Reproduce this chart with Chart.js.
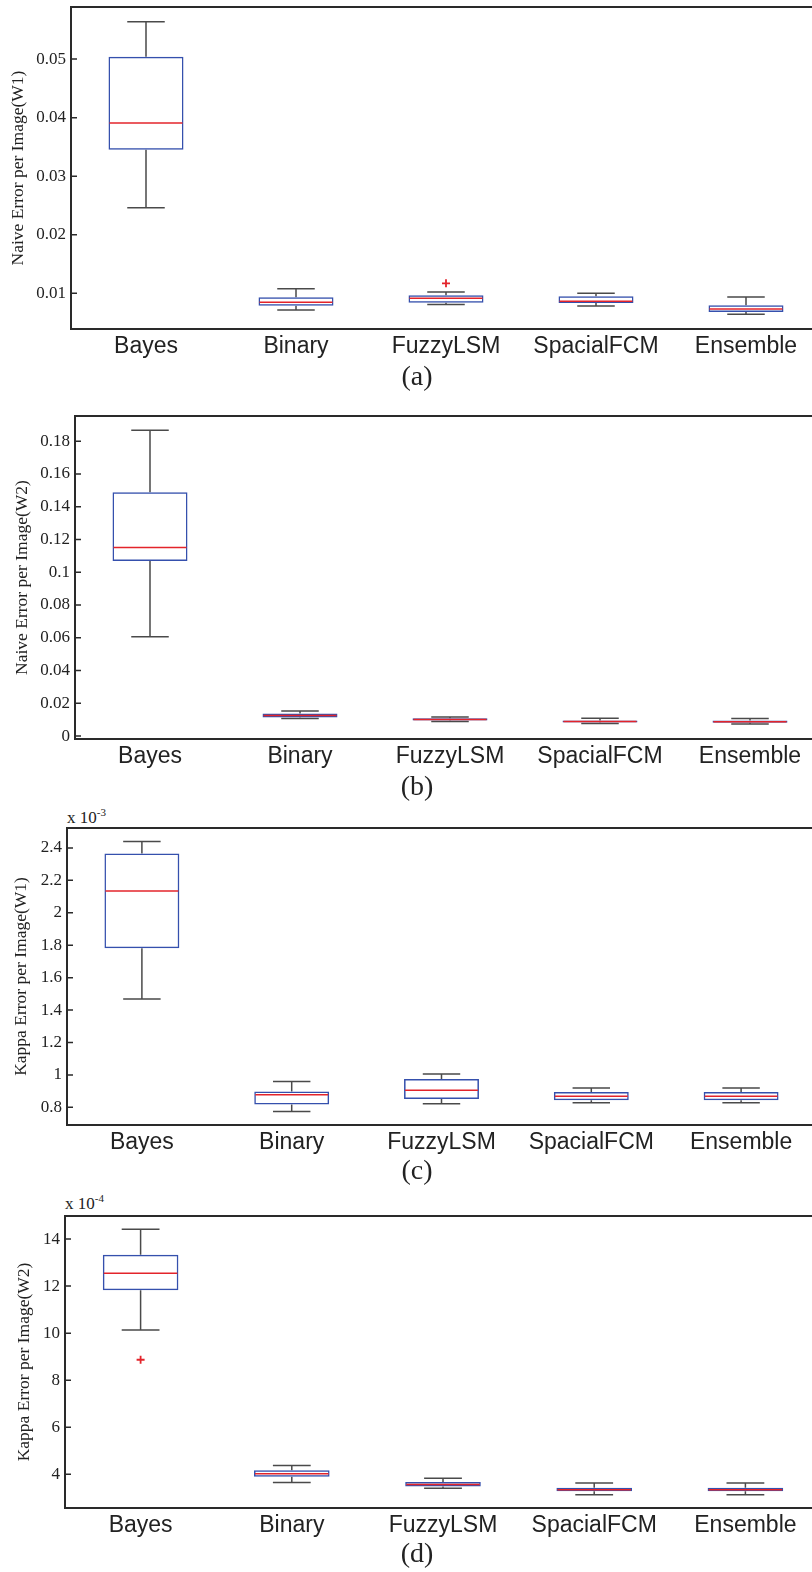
<!DOCTYPE html>
<html lang="en">
<head>
<meta charset="UTF-8">
<title>Error per Image box plots</title>
<style>
    html, body { margin: 0; padding: 0; background: #fff; overflow: hidden; }
    body { width: 812px; height: 1572px; position: relative; }
    canvas { position: absolute; left: 0; }
    .caption {
        position: absolute;
        font-family: "Liberation Serif", serif;
        font-size: 28px;
        color: #222;
        transform: translateX(-50%);
        white-space: nowrap;
    }
    .mult {
        position: absolute;
        font-family: "Liberation Serif", serif;
        font-size: 17px;
        color: #222;
        white-space: nowrap;
    }
    .mult sup { font-size: 11px; }
</style>
<script src="https://cdn.jsdelivr.net/npm/chart.js"></script>
</head>
<body>
<canvas id="chartA" width="840" height="382" style="top:-10px"></canvas>
<div class="caption" style="left:417px; top:360px">(a)</div>

<canvas id="chartB" width="840" height="382" style="top:400px"></canvas>
<div class="caption" style="left:417px; top:770px">(b)</div>

<div class="mult" style="left:67px; top:806px">x 10<sup>-3</sup></div>
<canvas id="chartC" width="840" height="358" style="top:810px"></canvas>
<div class="caption" style="left:417px; top:1154px">(c)</div>

<div class="mult" style="left:65px; top:1192px">x 10<sup>-4</sup></div>
<canvas id="chartD" width="840" height="356" style="top:1195px"></canvas>
<div class="caption" style="left:417px; top:1537px">(d)</div>

<script>
    const categories = ['Bayes', 'Binary', 'FuzzyLSM', 'SpacialFCM', 'Ensemble'];

    // (a) Naive error per image, W1
    const naiveW1Min = [0.0246, 0.00715, 0.0081, 0.00783, 0.0064];
    const naiveW1Q1 = [0.0345, 0.00788, 0.0084, 0.00834, 0.0068];
    const naiveW1Med = [0.0391, 0.00846, 0.00915, 0.00863, 0.00732];
    const naiveW1Q3 = [0.0504, 0.00932, 0.00966, 0.0095, 0.00795];
    const naiveW1Max = [0.0564, 0.01079, 0.0102, 0.0100, 0.00937];
    const naiveW1Outliers = [{x: 'FuzzyLSM', y: 0.0117}];
    const naiveW1Ticks = [0.01, 0.02, 0.03, 0.04, 0.05];

    // (b) Naive error per image, W2
    const naiveW2Min = [0.0606, 0.0107, 0.0089, 0.0077, 0.0073];
    const naiveW2Q1 = [0.1068, 0.0113, 0.0095, 0.0083, 0.0081];
    const naiveW2Med = [0.1151, 0.0125, 0.0101, 0.0089, 0.0087];
    const naiveW2Q3 = [0.1489, 0.0138, 0.0109, 0.0095, 0.0095];
    const naiveW2Max = [0.1867, 0.0153, 0.0117, 0.0109, 0.0107];
    const naiveW2Outliers = [];
    const naiveW2Ticks = [0, 0.02, 0.04, 0.06, 0.08, 0.1, 0.12, 0.14, 0.16, 0.18];

    // (c) Kappa error per image, W1  (x 10^-3)
    const kappaW1Min = [1.468, 0.774, 0.822, 0.828, 0.828];
    const kappaW1Q1 = [1.782, 0.817, 0.851, 0.844, 0.844];
    const kappaW1Med = [2.135, 0.877, 0.906, 0.869, 0.869];
    const kappaW1Q3 = [2.365, 0.898, 0.974, 0.894, 0.894];
    const kappaW1Max = [2.439, 0.959, 1.005, 0.920, 0.920];
    const kappaW1Outliers = [];
    const kappaW1Ticks = [0.8, 1, 1.2, 1.4, 1.6, 1.8, 2, 2.2, 2.4];

    // (d) Kappa error per image, W2  (x 10^-4)
    const kappaW2Min = [10.14, 3.65, 3.41, 3.13, 3.13];
    const kappaW2Q1 = [11.82, 3.90, 3.48, 3.28, 3.28];
    const kappaW2Med = [12.55, 4.03, 3.57, 3.35, 3.35];
    const kappaW2Q3 = [13.33, 4.17, 3.68, 3.43, 3.43];
    const kappaW2Max = [14.42, 4.38, 3.83, 3.63, 3.63];
    const kappaW2Outliers = [{x: 'Bayes', y: 8.87}];
    const kappaW2Ticks = [4, 6, 8, 10, 12, 14];

    const panels = [
        {id: 'chartA', title: 'Naive Error per Image(W1)', min: naiveW1Min, q1: naiveW1Q1, med: naiveW1Med, q3: naiveW1Q3, max: naiveW1Max,
         outliers: naiveW1Outliers, ticks: naiveW1Ticks, yMin: 0.0039, yMax: 0.0589, left: 71, right: 821, padTop: 17, titlePad: 9},
        {id: 'chartB', title: 'Naive Error per Image(W2)', min: naiveW2Min, q1: naiveW2Q1, med: naiveW2Med, q3: naiveW2Q3, max: naiveW2Max,
         outliers: naiveW2Outliers, ticks: naiveW2Ticks, yMin: -0.0018, yMax: 0.1954, left: 75, right: 825, padTop: 16, titlePad: 13},
        {id: 'chartC', title: 'Kappa Error per Image(W1)', min: kappaW1Min, q1: kappaW1Q1, med: kappaW1Med, q3: kappaW1Q3, max: kappaW1Max,
         outliers: kappaW1Outliers, ticks: kappaW1Ticks, yMin: 0.691, yMax: 2.523, left: 67, right: 816, padTop: 18, titlePad: 12},
        {id: 'chartD', title: 'Kappa Error per Image(W2)', min: kappaW2Min, q1: kappaW2Q1, med: kappaW2Med, q3: kappaW2Q3, max: kappaW2Max,
         outliers: kappaW2Outliers, ticks: kappaW2Ticks, yMin: 2.57, yMax: 14.98, left: 65, right: 821, padTop: 21, titlePad: 15}
    ];

    // whiskers, medians, frame and inward ticks, all placed through the chart scales
    const boxPlugin = {
        id: 'boxplot',
        beforeDatasetsDraw(chart, args, opts) {
            const {ctx, scales: {x, y}} = chart;
            const capHalf = x.width / categories.length * 0.125;
            ctx.save();
            ctx.strokeStyle = '#4a4a4a';
            ctx.lineWidth = 1.5;
            for (let i = 0; i < categories.length; i++) {
                const cx = x.getPixelForValue(i);
                const yMax = y.getPixelForValue(opts.max[i]);
                const yMin = y.getPixelForValue(opts.min[i]);
                ctx.beginPath();
                ctx.moveTo(cx, y.getPixelForValue(opts.q3[i]));
                ctx.lineTo(cx, yMax);
                ctx.moveTo(cx, y.getPixelForValue(opts.q1[i]));
                ctx.lineTo(cx, yMin);
                ctx.moveTo(cx - capHalf, yMax);
                ctx.lineTo(cx + capHalf, yMax);
                ctx.moveTo(cx - capHalf, yMin);
                ctx.lineTo(cx + capHalf, yMin);
                ctx.stroke();
            }
            ctx.restore();
        },
        afterDatasetsDraw(chart, args, opts) {
            const {ctx, chartArea, scales: {x, y}} = chart;
            const boxHalf = x.width / categories.length * 0.25;
            ctx.save();
            ctx.strokeStyle = '#e3242b';
            ctx.lineWidth = 1.5;
            for (let i = 0; i < categories.length; i++) {
                const cx = x.getPixelForValue(i);
                const ym = y.getPixelForValue(opts.med[i]);
                ctx.beginPath();
                ctx.moveTo(cx - boxHalf + 1, ym);
                ctx.lineTo(cx + boxHalf - 1, ym);
                ctx.stroke();
            }
            ctx.strokeStyle = '#2a2a2a';
            ctx.lineWidth = 2;
            ctx.strokeRect(chartArea.left, chartArea.top, chartArea.right - chartArea.left, chartArea.bottom - chartArea.top);
            ctx.lineWidth = 1.5;
            ctx.beginPath();
            y.ticks.forEach(t => {
                const yy = y.getPixelForValue(t.value);
                ctx.moveTo(chartArea.left, yy);
                ctx.lineTo(chartArea.left + 6, yy);
            });
            ctx.stroke();
            ctx.restore();
        }
    };

    panels.forEach(p => {
        const canvas = document.getElementById(p.id);
        new Chart(canvas, {
            data: {
                labels: categories,
                datasets: [
                    {
                        type: 'bar',
                        data: p.q1.map((v, i) => [v, p.q3[i]]),
                        backgroundColor: 'rgba(0,0,0,0)',
                        borderColor: '#3550ad',
                        borderWidth: 1.5,
                        borderSkipped: false,
                        barPercentage: 0.5,
                        categoryPercentage: 1
                    },
                    {
                        type: 'line',
                        data: p.outliers,
                        showLine: false,
                        pointStyle: 'cross',
                        pointRadius: 4,
                        pointBorderWidth: 1.8,
                        borderColor: '#e3242b',
                        backgroundColor: '#e3242b'
                    }
                ]
            },
            options: {
                responsive: false,
                animation: false,
                layout: {padding: {top: p.padTop, right: canvas.width - p.right, left: 0, bottom: 0}},
                plugins: {
                    legend: {display: false},
                    tooltip: {enabled: false},
                    boxplot: {min: p.min, q1: p.q1, med: p.med, q3: p.q3, max: p.max}
                },
                scales: {
                    x: {
                        type: 'category',
                        offset: true,
                        afterFit: s => { s.height = 43; },
                        grid: {display: false, drawTicks: false},
                        border: {display: false},
                        ticks: {font: {family: 'Liberation Sans', size: 23}, color: '#222', padding: 4, maxRotation: 0, autoSkip: false}
                    },
                    y: {
                        type: 'linear',
                        min: p.yMin,
                        max: p.yMax,
                        afterBuildTicks: s => { s.ticks = p.ticks.map(v => ({value: v})); },
                        afterFit: s => { s.width = p.left; },
                        grid: {display: false, drawTicks: false},
                        border: {display: false},
                        ticks: {
                            font: {family: 'Liberation Serif', size: 17},
                            color: '#222',
                            padding: 5,
                            callback: v => String(+Number(v).toFixed(4))
                        },
                        title: {
                            display: true,
                            text: p.title,
                            font: {family: 'Liberation Serif', size: 17.5},
                            color: '#222',
                            padding: {top: p.titlePad - 1, bottom: 0}
                        }
                    }
                }
            },
            plugins: [boxPlugin]
        });
    });
</script>
</body>
</html>
